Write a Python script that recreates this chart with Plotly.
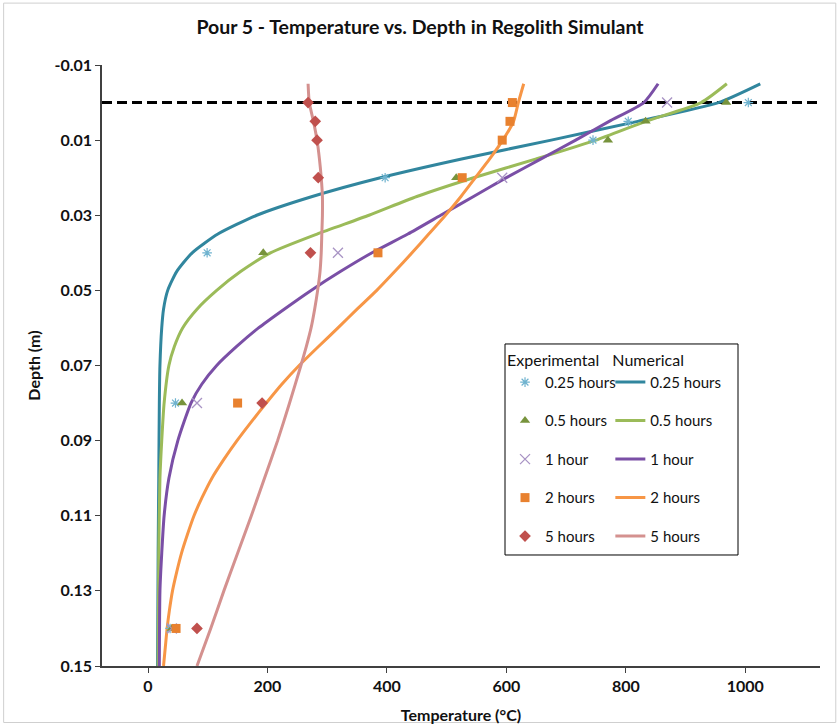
import plotly.graph_objects as go

# ---- Experimental thermocouple readings (depth in m, temperature in °C) ----
exp_depth_025 = [0, 0.005, 0.01, 0.02, 0.04, 0.08, 0.14]
exp_temp_025 = [1005, 804, 745, 397, 99, 46, 37]

exp_depth_05 = [0, 0.005, 0.01, 0.02, 0.04, 0.08, 0.14]
exp_temp_05 = [968, 833, 770, 516, 193, 57, 40]

exp_depth_1 = [0, 0.02, 0.04, 0.08, 0.14]
exp_temp_1 = [869, 593, 318, 82, 40]

exp_depth_2 = [0, 0.005, 0.01, 0.02, 0.04, 0.08, 0.14]
exp_temp_2 = [610, 606, 593, 526, 385, 150, 47]

exp_depth_5 = [0, 0.005, 0.01, 0.02, 0.04, 0.08, 0.14]
exp_temp_5 = [268, 280, 283, 285, 272, 191, 82]

# ---- Numerical model profiles ----
num_depth_025 = [-0.005, 0, 0.005, 0.01, 0.015, 0.02, 0.025, 0.03, 0.035, 0.04,
                 0.045, 0.05, 0.055, 0.06, 0.07, 0.08, 0.10, 0.12, 0.15]
num_temp_025 = [1025, 955, 820, 675, 525, 389, 275, 182, 117, 74,
                48, 33, 26, 23, 20, 19, 18, 17, 16]

num_depth_05 = [-0.005, 0, 0.005, 0.01, 0.015, 0.02, 0.025, 0.03, 0.035, 0.04,
                0.045, 0.05, 0.055, 0.06, 0.065, 0.07, 0.08, 0.09, 0.10, 0.12, 0.15]
num_temp_05 = [969, 926, 833, 750, 650, 545, 450, 370, 283, 205,
               155, 115, 82, 58, 44, 35, 27, 23, 20, 18, 17]

num_depth_1 = [-0.005, 0, 0.005, 0.01, 0.015, 0.02, 0.025, 0.03, 0.035, 0.04,
               0.045, 0.05, 0.055, 0.06, 0.065, 0.07, 0.075, 0.08, 0.09, 0.10,
               0.11, 0.12, 0.13, 0.15]
num_temp_1 = [854, 830, 772, 716, 658, 600, 545, 490, 435, 375,
              322, 273, 228, 185, 148, 115, 90, 72, 50, 35,
              27, 23, 20, 19]

num_depth_2 = [-0.005, 0, 0.005, 0.01, 0.015, 0.02, 0.025, 0.03, 0.035, 0.04,
               0.045, 0.05, 0.055, 0.06, 0.065, 0.07, 0.075, 0.08, 0.085, 0.09,
               0.095, 0.10, 0.105, 0.11, 0.115, 0.12, 0.125, 0.13, 0.135, 0.14,
               0.145, 0.15]
num_temp_2 = [629, 620, 612, 594, 572, 548, 524, 498, 470, 442,
              413, 383, 350, 318, 285, 253, 224, 198, 173, 149,
              127, 107, 91, 77, 66, 56, 48, 41, 36, 32,
              29, 26]

num_depth_5 = [-0.005, 0, 0.005, 0.01, 0.015, 0.02, 0.025, 0.03, 0.035, 0.04,
               0.045, 0.05, 0.055, 0.06, 0.065, 0.07, 0.08, 0.09, 0.10, 0.11,
               0.12, 0.13, 0.14, 0.15]
num_temp_5 = [268, 270, 277, 283, 287, 290, 292, 292, 291, 290,
              288, 284, 279, 273, 265, 256, 237, 217, 195, 173,
              150, 127, 105, 82]

surface_depth = 0.0

series_labels = ["0.25 hours", "0.5 hours", "1 hour", "2 hours", "5 hours"]
y_tick_vals = [-0.01, 0.01, 0.03, 0.05, 0.07, 0.09, 0.11, 0.13, 0.15]
y_tick_text = ["-0.01", "0.01", "0.03", "0.05", "0.07", "0.09", "0.11", "0.13", "0.15"]
x_tick_vals = [0, 200, 400, 600, 800, 1000]

FONT = "Lato, 'Open Sans', sans-serif"
INK = "#111111"

exp_data = [
    (exp_temp_025, exp_depth_025, dict(symbol="asterisk-open", size=8, color="#6fb3cf",
                                       line=dict(color="#6fb3cf", width=1.2))),
    (exp_temp_05, exp_depth_05, dict(symbol="triangle-up", size=9, color="#77933c")),
    (exp_temp_1, exp_depth_1, dict(symbol="x-thin-open", size=10, color="#a893c4",
                                   line=dict(color="#a893c4", width=1.3))),
    (exp_temp_2, exp_depth_2, dict(symbol="square", size=9, color="#e8812f")),
    (exp_temp_5, exp_depth_5, dict(symbol="diamond", size=9, color="#c0504d")),
]

num_data = [
    (num_temp_025, num_depth_025, "#31869e"),
    (num_temp_05, num_depth_05, "#9bbb59"),
    (num_temp_1, num_depth_1, "#7a4fa6"),
    (num_temp_2, num_depth_2, "#f79646"),
    (num_temp_5, num_depth_5, "#d4918f"),
]

fig = go.Figure()

for i, (t, d, c) in enumerate(num_data):
    fig.add_trace(go.Scatter(
        x=t, y=d, mode="lines", name=series_labels[i],
        line=dict(color=c, width=3, shape="spline", smoothing=0.6),
        legend="legend2", legendgroup=f"num{i}",
    ))

for i, (t, d, m) in enumerate(exp_data):
    fig.add_trace(go.Scatter(
        x=t, y=d, mode="markers", name=series_labels[i],
        marker=m, legend="legend", legendgroup=f"exp{i}",
    ))

# regolith surface
fig.add_shape(type="line", xref="x domain", yref="y", x0=0, x1=1,
              y0=surface_depth, y1=surface_depth,
              line=dict(color="black", width=3, dash="10px,5px"), layer="below")

# legend frame
fig.add_shape(type="rect", xref="paper", yref="paper",
              x0=0.5613, x1=0.8858, y0=0.1847, y1=0.5358,
              line=dict(color="black", width=1), fillcolor="white", layer="below")

# chart border
fig.add_shape(type="rect", xref="paper", yref="paper",
              x0=-0.137, x1=1.022, y0=-0.094, y1=1.103,
              line=dict(color="#cfcfcf", width=1))

legend_common = dict(
    xanchor="left", yanchor="top", bgcolor="rgba(0,0,0,0)",
    font=dict(family=FONT, size=15, color=INK),
    itemwidth=30, tracegroupgap=16, traceorder="grouped",
)

fig.update_layout(
    width=840, height=727,
    margin=dict(l=102, r=20, t=65, b=61),
    paper_bgcolor="white", plot_bgcolor="white",
    title=dict(text="Pour 5 - Temperature vs. Depth in Regolith Simulant",
               x=0.5, xref="container", y=0.962, yanchor="middle",
               font=dict(family=FONT, size=19.5, color=INK, weight="bold")),
    showlegend=True,
    legend=dict(x=0.5613, y=0.534,
                title=dict(text="Experimental", font=dict(family=FONT, size=16, color=INK)),
                **legend_common),
    legend2=dict(x=0.708, y=0.534,
                 title=dict(text="Numerical", font=dict(family=FONT, size=16, color=INK)),
                 **legend_common),
    xaxis=dict(
        range=[-77, 1125], tickvals=x_tick_vals, showgrid=False, zeroline=False,
        showline=True, linecolor="#404040", linewidth=1.5, automargin=False,
        ticks="outside", ticklen=5, tickcolor="#404040",
        tickfont=dict(family=FONT, size=16, color=INK, weight="bold"),
        title=dict(text="Temperature (°C)", standoff=16,
                   font=dict(family=FONT, size=16, color=INK, weight="bold")),
    ),
    yaxis=dict(
        range=[0.15, -0.01], tickvals=y_tick_vals, ticktext=y_tick_text,
        showgrid=False, zeroline=False, automargin=False,
        showline=True, linecolor="#404040", linewidth=1.5,
        ticks="outside", ticklen=5, tickcolor="#404040",
        tickfont=dict(family=FONT, size=16, color=INK, weight="bold"),
        title=dict(text="Depth (m)", standoff=10,
                   font=dict(family=FONT, size=16, color=INK, weight="bold")),
    ),
)

fig.write_html("out.html")
